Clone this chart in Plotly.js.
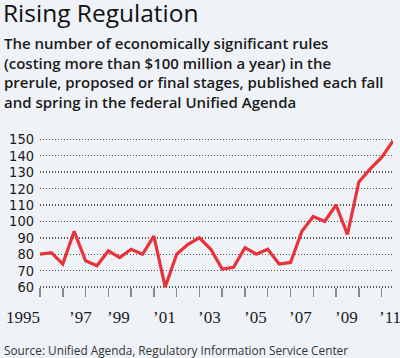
<!DOCTYPE html>
<html>
<head>
<meta charset="utf-8">
<script src="https://cdn.plot.ly/plotly-3.0.1.min.js"></script>
<style>
  html, body { margin: 0; padding: 0; background: #eff3f8; }
  #chart { width: 400px; height: 358px; }
</style>
</head>
<body>
<div id="chart"></div>
<script>
// ---- Data (spring & fall editions of the Unified Agenda) ----
var periods = [
  1995.0, 1995.5, 1996.0, 1996.5, 1997.0, 1997.5, 1998.0, 1998.5,
  1999.0, 1999.5, 2000.0, 2000.5, 2001.0, 2001.5, 2002.0, 2002.5,
  2003.0, 2003.5, 2004.0, 2004.5, 2005.0, 2005.5, 2006.0, 2006.5,
  2007.0, 2007.5, 2008.0, 2008.5, 2009.0, 2009.5, 2010.0, 2010.5
];
var rules = [
  80, 81, 74, 94, 76, 73, 82, 78,
  83, 80, 91, 60, 80, 86, 90, 83,
  71, 72, 84, 80, 83, 74, 75, 94,
  103, 100, 110, 92, 124, 132, 139, 149
];
var yTicks = [60, 70, 80, 90, 100, 110, 120, 130, 140, 150];
var xLabelYears = [1995, 1997, 1999, 2001, 2003, 2005, 2007, 2009, 2011];
var xLabelText = ['1995', '\u201997', '\u201999', '\u201901', '\u201903', '\u201905', '\u201907', '\u201909', '\u201911'];

var titleText = 'Rising Regulation';
var subtitleText = 'The number of economically significant rules<br>' +
  '(costing more than $100 million a year) in the<br>' +
  'prerule, proposed or final stages, published each fall<br>' +
  'and spring in the federal Unified Agenda';
var sourceText = 'Source: Unified Agenda, Regulatory Information Service Center';

// ---- Layout geometry ----
var W = 400, H = 358;
var ml = 39.5, mr = 7.3, mt = 135.7, mb = 66.4;
var pw = W - ml - mr, ph = H - mt - mb;
var yMin = 57, yMax = 152;
function px2x(px) { return (px - ml) / pw; }
function py2y(py) { return (H - mb - py) / ph; }

var bg = '#eff3f8';
var textColor = '#1b1b1b';

var annotations = [
  { text: titleText, xref: 'paper', yref: 'paper', x: px2x(0.5), y: py2y(12.5),
    xanchor: 'left', yanchor: 'middle', showarrow: false, align: 'left',
    font: { family: 'Open Sans', size: 24.5, color: '#111111', weight: 500 } },
  { text: subtitleText, xref: 'paper', yref: 'paper', x: px2x(1), y: py2y(72.5),
    xanchor: 'left', yanchor: 'middle', showarrow: false, align: 'left',
    font: { family: 'Open Sans', size: 15, color: textColor, weight: 600 } },
  { text: sourceText, xref: 'paper', yref: 'paper', x: px2x(1), y: py2y(349.5),
    xanchor: 'left', yanchor: 'middle', showarrow: false, align: 'left',
    font: { family: 'Open Sans', size: 11.8, color: '#333333' } }
];

// year labels on the x axis
xLabelYears.forEach(function (yr, i) {
  var a = { text: xLabelText[i], yref: 'paper', y: py2y(317), yanchor: 'middle',
    xanchor: 'center', showarrow: false,
    font: { family: 'Liberation Sans Narrow', size: 17, color: textColor } };
  if (i === 0) { a.xref = 'paper'; a.x = px2x(22); }
  else if (i === 1) { a.xref = 'x'; a.x = yr - 0.24; }
  else if (i === xLabelYears.length - 1) { a.xref = 'x'; a.x = yr - 0.64; }
  else { a.xref = 'x'; a.x = yr - 0.55; }
  annotations.push(a);
});

var trace = {
  x: periods, y: rules, type: 'scatter', mode: 'lines',
  line: { color: '#e8333a', width: 3.2 },
  hoverinfo: 'skip'
};

var layout = {
  width: W, height: H,
  paper_bgcolor: bg, plot_bgcolor: bg,
  margin: { l: ml, r: mr, t: mt, b: mb, pad: 0 },
  showlegend: false,
  xaxis: {
    range: [1995, 2010.5], tick0: 1995, dtick: 1,
    anchor: 'free', position: (60 - yMin) / (yMax - yMin),
    showgrid: false, zeroline: false, showline: false,
    ticks: 'outside', ticklen: 9, tickwidth: 1.5, tickcolor: '#8a8a8a',
    showticklabels: false, fixedrange: true
  },
  yaxis: {
    range: [yMin, yMax], tickvals: yTicks, ticktext: yTicks.map(String),
    showgrid: true, gridcolor: '#555555', gridwidth: 1.4, griddash: '1px,2px',
    zeroline: false, showline: false, ticks: '',
    ticklabelstandoff: 5,
    tickfont: { family: 'DejaVu Sans Condensed', size: 14.5, color: textColor },
    fixedrange: true
  },
  annotations: annotations
};

Plotly.newPlot('chart', [trace], layout, { staticPlot: true, displayModeBar: false });
</script>
</body>
</html>
